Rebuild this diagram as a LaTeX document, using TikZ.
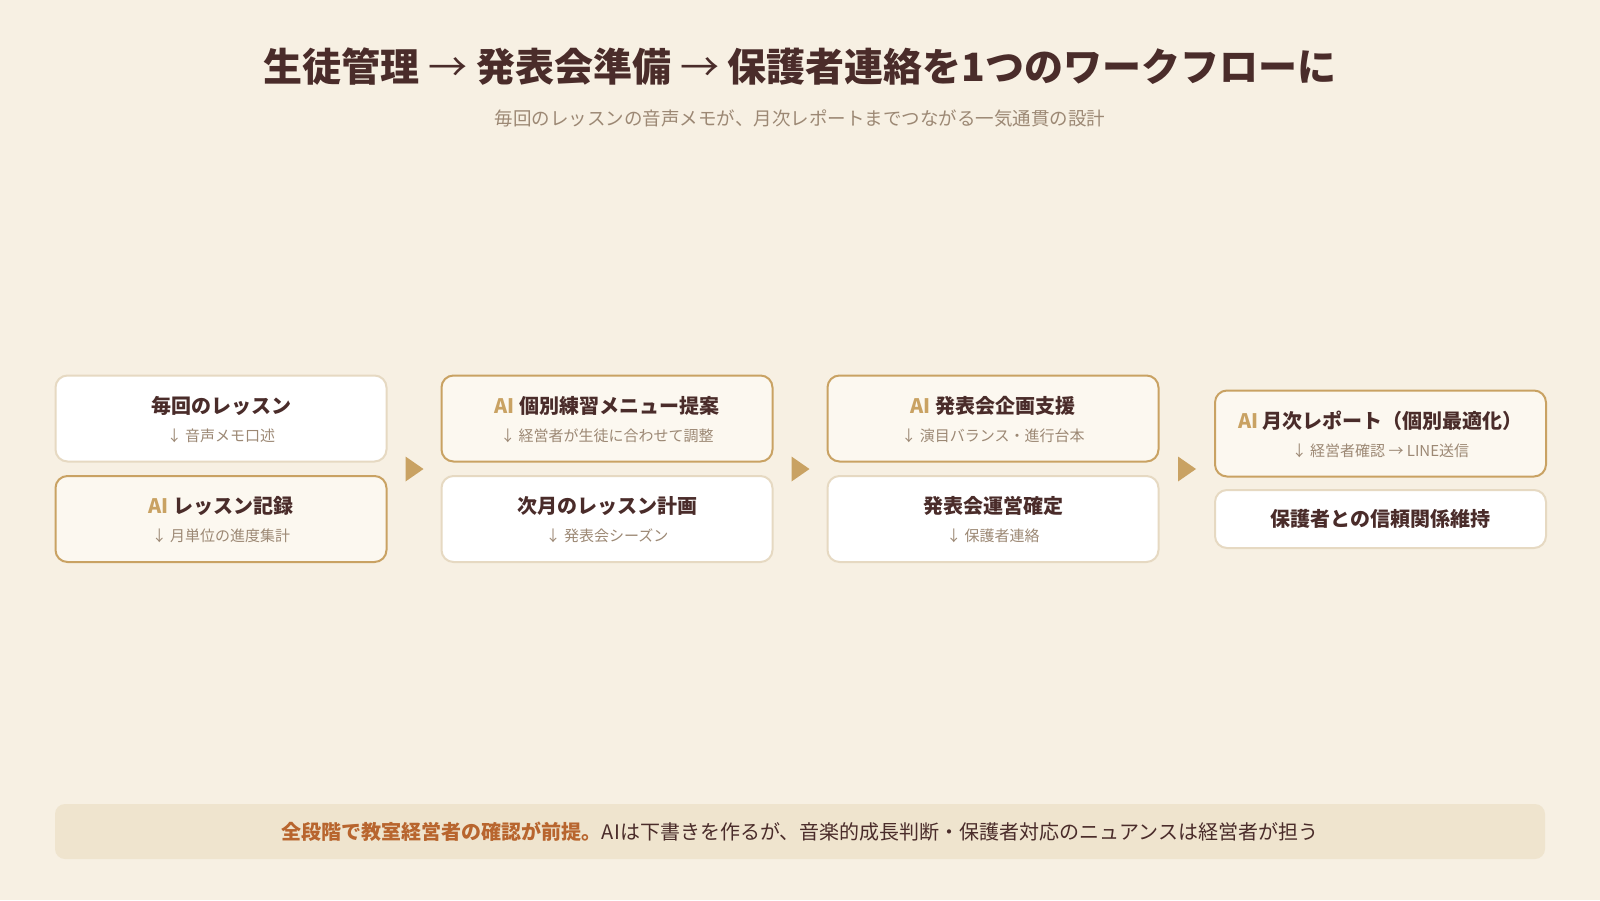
\documentclass[tikz,border=0pt]{standalone}
\usepackage{fontspec}
\setmainfont{Noto Sans CJK JP}
\usetikzlibrary{positioning}

\definecolor{bgcol}{HTML}{F7F0E3}
\definecolor{darktext}{HTML}{4A2C2A}
\definecolor{greytext}{HTML}{9C8874}
\definecolor{goldline}{HTML}{C9A263}
\definecolor{lightline}{HTML}{E6D9C2}
\definecolor{aifill}{HTML}{FCF8F0}
\definecolor{barfill}{HTML}{EFE4CE}
\definecolor{accent}{HTML}{B8652E}

\begin{document}
\begin{tikzpicture}[x=1pt,y=-1pt,
	plain_box/.style={draw=lightline,line width=2pt,fill=white,rounded corners=12pt,minimum width=331pt,minimum height=86pt,inner sep=0pt},
	ai_box/.style={plain_box,draw=goldline,fill=aifill},
	head_text/.style={text=darktext,font=\fontsize{20}{24}\selectfont\bfseries,inner sep=0pt},
	sub_text/.style={text=greytext,font=\fontsize{15}{18}\selectfont,inner sep=0pt},
	tri/.style={fill=goldline}]
		
		\fill[bgcol] (0,0) rectangle (1600,900);
		
		\node[text=darktext,font=\fontsize{39}{45}\selectfont\bfseries] (title) at (800,67) {生徒管理 {\mdseries →} 発表会準備 {\mdseries →} 保護者連絡を1つのワークフローに};
		\node[text=greytext,font=\fontsize{18.5}{22}\selectfont] (subtitle) at (800,118) {毎回のレッスンの音声メモが、月次レポートまでつながる一気通貫の設計};
		
		\node[plain_box] (1) at (221,418.5) {};
		\node[ai_box] (2) at (221,519) {};
		\node[ai_box] (3) at (607,418.5) {};
		\node[plain_box] (4) at (607,519) {};
		\node[ai_box] (5) at (993,418.5) {};
		\node[plain_box] (6) at (993,519) {};
		\node[ai_box] (7) at (1380.5,433.5) {};
		\node[plain_box,minimum height=58pt] (8) at (1380.5,519) {};
		
		\node[head_text] (1h) at ([yshift=13pt]1.center) {毎回のレッスン};
		\node[sub_text] (1s) at ([yshift=-17pt]1.center) {↓ 音声メモ口述};
		\node[head_text] (2h) at ([yshift=13pt]2.center) {\textcolor{goldline}{AI} レッスン記録};
		\node[sub_text] (2s) at ([yshift=-17pt]2.center) {↓ 月単位の進度集計};
		\node[head_text] (3h) at ([yshift=13pt]3.center) {\textcolor{goldline}{AI} 個別練習メニュー提案};
		\node[sub_text] (3s) at ([yshift=-17pt]3.center) {↓ 経営者が生徒に合わせて調整};
		\node[head_text] (4h) at ([yshift=13pt]4.center) {次月のレッスン計画};
		\node[sub_text] (4s) at ([yshift=-17pt]4.center) {↓ 発表会シーズン};
		\node[head_text] (5h) at ([yshift=13pt]5.center) {\textcolor{goldline}{AI} 発表会企画支援};
		\node[sub_text] (5s) at ([yshift=-17pt]5.center) {↓ 演目バランス・進行台本};
		\node[head_text] (6h) at ([yshift=13pt]6.center) {発表会運営確定};
		\node[sub_text] (6s) at ([yshift=-17pt]6.center) {↓ 保護者連絡};
		\node[head_text] (7h) at ([yshift=13pt]7.center) {\textcolor{goldline}{AI} 月次レポート（個別最適化）};
		\node[sub_text] (7s) at ([yshift=-17pt]7.center) {↓ 経営者確認 → LINE送信};
		\node[head_text] (8h) at (8.center) {保護者との信頼関係維持};
		
		\coordinate (m1) at (414.5,469);
		\coordinate (m2) at (800.5,469);
		\coordinate (m3) at (1187,469);
		\fill[tri] (m1) ++(-9,-12.5) -- ++(18,12.5) -- ++(-18,12.5) -- cycle;
		\fill[tri] (m2) ++(-9,-12.5) -- ++(18,12.5) -- ++(-18,12.5) -- cycle;
		\fill[tri] (m3) ++(-9,-12.5) -- ++(18,12.5) -- ++(-18,12.5) -- cycle;
		
		\node[fill=barfill,rounded corners=10pt,minimum width=1490pt,minimum height=55pt] (note) at (800,831.5) {};
		\node[text=darktext,font=\fontsize{20}{24}\selectfont,inner sep=0pt] (notetext) at (note.center) {\textcolor{accent}{\bfseries 全段階で教室経営者の確認が前提。}AIは下書きを作るが、音楽的成長判断・保護者対応のニュアンスは経営者が担う};
		\end{tikzpicture}
\end{document}
